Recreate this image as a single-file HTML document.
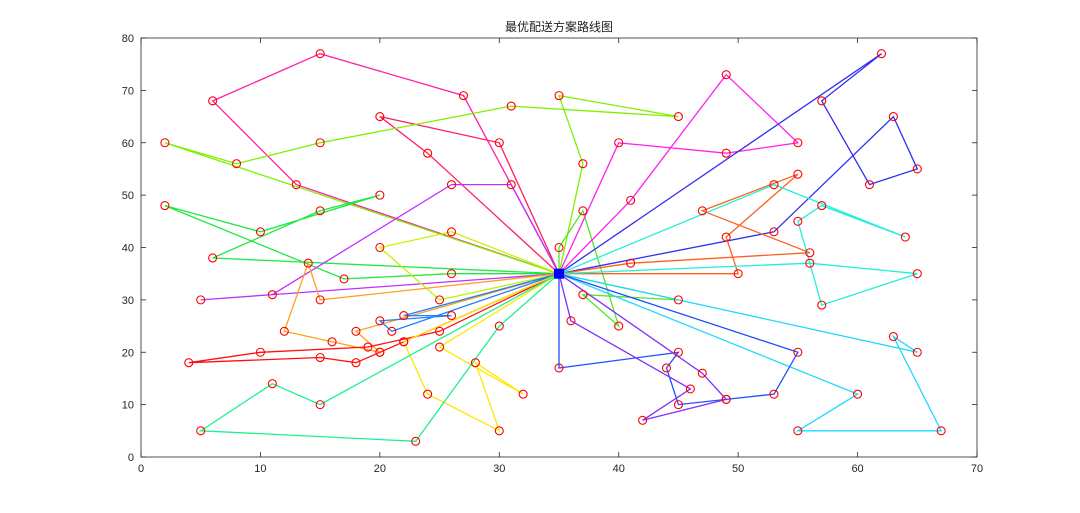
<!DOCTYPE html>
<html><head><meta charset="utf-8"><style>
html,body{margin:0;padding:0;background:#fff;}
svg{display:block;font-family:"Liberation Sans","Noto Sans CJK SC",sans-serif;}
</style></head><body>
<svg id="s" width="1080" height="513" xmlns="http://www.w3.org/2000/svg">
<rect x="0" y="0" width="1080" height="513" fill="#fff"/>
<rect x="141" y="38" width="836" height="419" fill="#fff" stroke="#262626" stroke-width="0.8"/>
<text x="559" y="31" font-size="12" text-anchor="middle" fill="#222">最优配送方案路线图</text>
<g id="ax" font-size="11" fill="#262626"></g>
<g id="routes" fill="none" stroke-width="1.3"></g>
<g id="pts" fill="none" stroke="#ff0000" stroke-width="1.1"></g>
<rect x="554" y="268.7" width="10" height="10" fill="#0000ff"/>
</svg>
<script>
var NS="http://www.w3.org/2000/svg";
function X(x){return 141+x*836/70;}
function Y(y){return 457-y*419/80;}
function el(t,a,p,txt){var e=document.createElementNS(NS,t);for(var k in a)e.setAttribute(k,a[k]);if(txt!==undefined)e.textContent=txt;p.appendChild(e);return e;}
var ax=document.getElementById('ax');
for(var i=0;i<=70;i+=10){var x=X(i);el('line',{x1:x,y1:457,x2:x,y2:452,stroke:'#262626','stroke-width':0.8},ax);el('line',{x1:x,y1:38,x2:x,y2:43,stroke:'#262626','stroke-width':0.8},ax);el('text',{x:x,y:472,'text-anchor':'middle'},ax,i);}
for(var j=0;j<=80;j+=10){var y=Y(j);el('line',{x1:141,y1:y,x2:146,y2:y,stroke:'#262626','stroke-width':0.8},ax);el('line',{x1:977,y1:y,x2:972,y2:y,stroke:'#262626','stroke-width':0.8},ax);el('text',{x:134,y:y+4,'text-anchor':'end'},ax,j);}
var D=[35,35];
var R=[
['#ff20a8',[[27,69],[15,77],[6,68],[13,52]]],
['#ff2060',[[30,60],[20,65],[24,58]]],
['#80f000',[[2,60],[8,56],[15,60],[31,67],[45,65],[35,69],[37,56]]],
['#50e820',[[35,40],[37,47],[40,25],[37,31],[45,30]]],
['#20e840',[[6,38],[15,47],[20,50],[10,43],[2,48],[17,34],[26,35]]],
['#c030ff',[[5,30],[11,31],[26,52],[31,52]]],
['#c8f000',[[26,43],[20,40],[25,30]]],
['#ffa020',[[15,30],[14,37],[12,24],[16,22],[20,20],[18,24]]],
['#2080ff',[[22,27],[26,27],[20,26],[21,24]]],
['#ff1010',[[25,24],[19,21],[10,20],[4,18],[15,19],[18,18],[20,20],[22,22]]],
['#ffe800',[[22,22],[24,12],[30,5],[28,18],[32,12],[25,21]]],
['#20f090',[[15,10],[11,14],[5,5],[23,3],[30,25]]],
['#ff20f0',[[41,49],[49,73],[55,60],[49,58],[40,60]]],
['#3030f0',[[62,77],[57,68],[61,52],[65,55],[63,65],[53,43]]],
['#ff6020',[[41,37],[56,39],[47,47],[55,54],[49,42],[50,35]]],
['#20f0d8',[[53,52],[64,42],[57,48],[55,45],[57,29],[65,35],[56,37]]],
['#20d8ff',[[65,20],[63,23],[67,5],[55,5],[60,12]]],
['#2050ff',[[55,20],[53,12],[49,11],[45,10],[44,17],[45,20],[35,17]]],
['#8030ff',[[36,26],[46,13],[42,7],[49,11],[47,16]]]
];
var g=document.getElementById('routes'),pg=document.getElementById('pts');
R.forEach(function(r){var pts=[D].concat(r[1]).concat([D]);el('polyline',{points:pts.map(function(p){return X(p[0]).toFixed(1)+','+Y(p[1]).toFixed(1);}).join(' '),stroke:r[0]},g);
r[1].forEach(function(p){el('circle',{cx:X(p[0]),cy:Y(p[1]),r:4},pg);});});
</script>
</body></html>
